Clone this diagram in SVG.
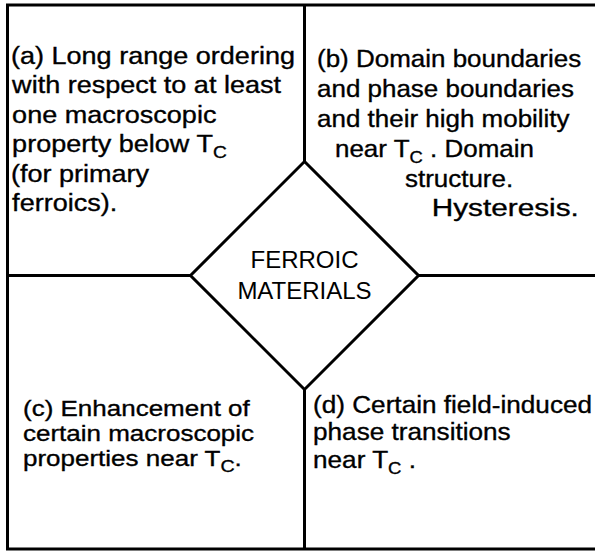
<svg xmlns="http://www.w3.org/2000/svg" width="595" height="552" viewBox="0 0 595 552">
  <style>
    .ln { fill: none; stroke: #000; stroke-width: 3; stroke-linejoin: miter; }
    .tx { font-family: "Liberation Sans", Arial, sans-serif; font-size: 24px; fill: #000; stroke: #000; stroke-width: 0.35; }
    .ctr { font-family: "Liberation Sans", Arial, sans-serif; font-size: 24px; fill: #000; text-anchor: middle; }
    .sub { font-size: 17px; }
  </style>
  <rect width="595" height="552" fill="#fff"/>

  <!-- frame and dividing lines -->
  <g id="connectors">
    <path class="ln" d="M595,5 H7.5 V549 H595"/>
    <line class="ln" x1="304.5" y1="5" x2="304.5" y2="161.5"/>
    <line class="ln" x1="304.5" y1="389.5" x2="304.5" y2="549"/>
    <line class="ln" x1="7.5" y1="275.5" x2="190.5" y2="275.5"/>
    <line class="ln" x1="418.5" y1="275.5" x2="595" y2="275.5"/>
  </g>

  <!-- central diamond -->
  <g id="ferroic-materials">
    <polygon class="ln" points="304.5,161.5 418.5,275.5 304.5,389.5 190.5,275.5"/>
    <text class="ctr" x="304.5" y="268">FERROIC</text>
    <text class="ctr" x="304.5" y="299">MATERIALS</text>
  </g>

  <!-- (a) upper left -->
  <g id="property-a" transform="translate(11 0) scale(1.127 1)">
    <text class="tx" x="0" y="64">(a) Long range ordering</text>
    <text class="tx" x="1" y="93.5">with respect to at least</text>
    <text class="tx" x="1" y="123">one macroscopic</text>
    <text class="tx" x="1" y="152.5">property below T<tspan class="sub" dy="6">C</tspan></text>
    <text class="tx" x="0" y="182">(for primary</text>
    <text class="tx" x="1" y="211.5">ferroics).</text>
  </g>

  <!-- (b) upper right -->
  <g id="property-b" transform="translate(317 0) scale(1.082 1)">
    <text class="tx" x="0" y="67">(b) Domain boundaries</text>
    <text class="tx" x="0" y="97">and phase boundaries</text>
    <text class="tx" x="0" y="127">and their high mobility</text>
    <text class="tx" x="16.6" y="157">near T<tspan class="sub" dy="6">C</tspan><tspan dy="-6"> . Domain</tspan></text>
    <text class="tx" x="81.3" y="187">structure.</text>
    <text class="tx" x="106" y="216" textLength="136" lengthAdjust="spacingAndGlyphs">Hysteresis.</text>
  </g>

  <!-- (c) lower left -->
  <g id="property-c" transform="translate(23 0) scale(1.156 1)">
    <text class="tx" style="font-size:22.5px" x="0" y="416">(c) Enhancement of</text>
    <text class="tx" style="font-size:22.5px" x="0" y="441">certain macroscopic</text>
    <text class="tx" style="font-size:22.5px" x="0" y="466">properties near T<tspan class="sub" dy="6">C</tspan><tspan dy="-6">.</tspan></text>
  </g>

  <!-- (d) lower right -->
  <g id="property-d" transform="translate(313 0) scale(1.09 1)">
    <text class="tx" x="0" y="413">(d) Certain field-induced</text>
    <text class="tx" x="0" y="440">phase transitions</text>
    <text class="tx" x="0" y="468">near T<tspan class="sub" dy="6">C</tspan><tspan dy="-6"> .</tspan></text>
  </g>
</svg>
